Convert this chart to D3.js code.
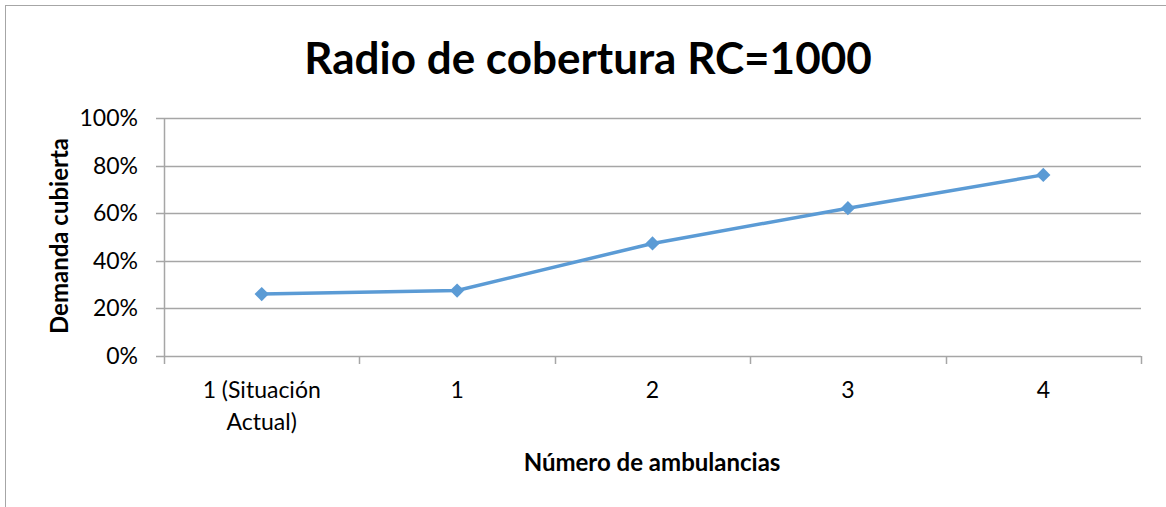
<!DOCTYPE html>
<html>
<head>
<meta charset="utf-8">
<script src="https://d3js.org/d3.v7.min.js"></script>
<style>
body{margin:0;background:#fff}
text{font-family:Lato,"Open Sans",sans-serif;fill:#000}
</style>
</head>
<body>
<div id="chart"></div>
<script>
// chart values
var categories = ["1 (Situación Actual)","1","2","3","4"]
var coverage = [0.26,0.275,0.473,0.621,0.761]
var yTicks = [0,0.2,0.4,0.6,0.8,1]

var w = 1166
var h = 507
var margin = {left:164,right:25,top:118,bottom:151}
var lineColor = "#5B9BD5"
var gridColor = "#A6A6A6"

var svg = d3.select("#chart").append("svg").attr("width",w).attr("height",h)

//outer chart border (only top/left visible in crop)
svg.append("rect").attr("x",5.5).attr("y",5.5)
    .attr("width",w+20).attr("height",h+20)
    .attr("fill","none").attr("stroke","#A6A6A6").attr("stroke-width",1)

var xScale = d3.scaleBand().domain(categories).range([margin.left,w-margin.right])
var yScale = d3.scaleLinear().domain([0,1]).range([h-margin.bottom,margin.top])

//gridlines + y labels
svg.selectAll(".grid").data(yTicks).enter().append("line")
    .attr("class","grid")
    .attr("x1",margin.left-8).attr("x2",w-margin.right)
    .attr("y1",function(d){return Math.round(yScale(d))+0.5})
    .attr("y2",function(d){return Math.round(yScale(d))+0.5})
    .attr("stroke",gridColor).attr("stroke-width",1.5)

svg.selectAll(".ylabel").data(yTicks).enter().append("text")
    .attr("class","ylabel")
    .attr("x",margin.left-26)
    .attr("y",function(d){return yScale(d)+8})
    .attr("text-anchor","end")
    .attr("font-size",23)
    .text(function(d){return Math.round(d*100)+"%"})

//y axis line
svg.append("line").attr("x1",margin.left+0.5).attr("x2",margin.left+0.5)
    .attr("y1",margin.top).attr("y2",yScale(0)+8)
    .attr("stroke",gridColor).attr("stroke-width",1.5)

//x ticks at band edges
var edges = categories.map(function(c){return xScale(c)}).concat([w-margin.right])
svg.selectAll(".xtick").data(edges.slice(1)).enter().append("line")
    .attr("class","xtick")
    .attr("x1",function(d){return Math.round(d)+0.5}).attr("x2",function(d){return Math.round(d)+0.5})
    .attr("y1",yScale(0)).attr("y2",yScale(0)+8)
    .attr("stroke",gridColor).attr("stroke-width",1.5)

//x labels (wrapped)
var xLabelLines = {"1 (Situación Actual)":["1 (Situación","Actual)"]}
categories.forEach(function(c){
    var lines = xLabelLines[c] || [c]
    var t = svg.append("text")
        .attr("x",xScale(c)+xScale.bandwidth()/2)
        .attr("y",398)
        .attr("text-anchor","middle")
        .attr("font-size",23)
    lines.forEach(function(l,i){
        t.append("tspan").attr("x",xScale(c)+xScale.bandwidth()/2)
            .attr("dy",i==0?0:32).text(l)
    })
})

//line + markers
var line = d3.line()
    .x(function(d,i){return xScale(categories[i])+xScale.bandwidth()/2})
    .y(function(d){return yScale(d)})

svg.append("path").datum(coverage)
    .attr("d",line)
    .attr("fill","none")
    .attr("stroke",lineColor)
    .attr("stroke-width",3.5)
    .attr("stroke-linejoin","round")

svg.selectAll(".marker").data(coverage).enter().append("path")
    .attr("class","marker")
    .attr("d",d3.symbol().type(d3.symbolDiamond2).size(130))
    .attr("transform",function(d,i){
        return "translate("+(xScale(categories[i])+xScale.bandwidth()/2)+","+yScale(d)+")"
    })
    .attr("fill",lineColor)

//titles
svg.append("text").attr("x",588).attr("y",74)
    .attr("text-anchor","middle").attr("font-size",44).attr("font-weight","bold")
    .text("Radio de cobertura RC=1000")

svg.append("text").attr("x",652).attr("y",471)
    .attr("text-anchor","middle").attr("font-size",24).attr("font-weight","bold")
    .text("Número de ambulancias")

svg.append("text")
    .attr("transform","translate(68,236) rotate(-90)")
    .attr("text-anchor","middle").attr("font-size",24).attr("font-weight","bold")
    .text("Demanda cubierta")
</script>
</body>
</html>
